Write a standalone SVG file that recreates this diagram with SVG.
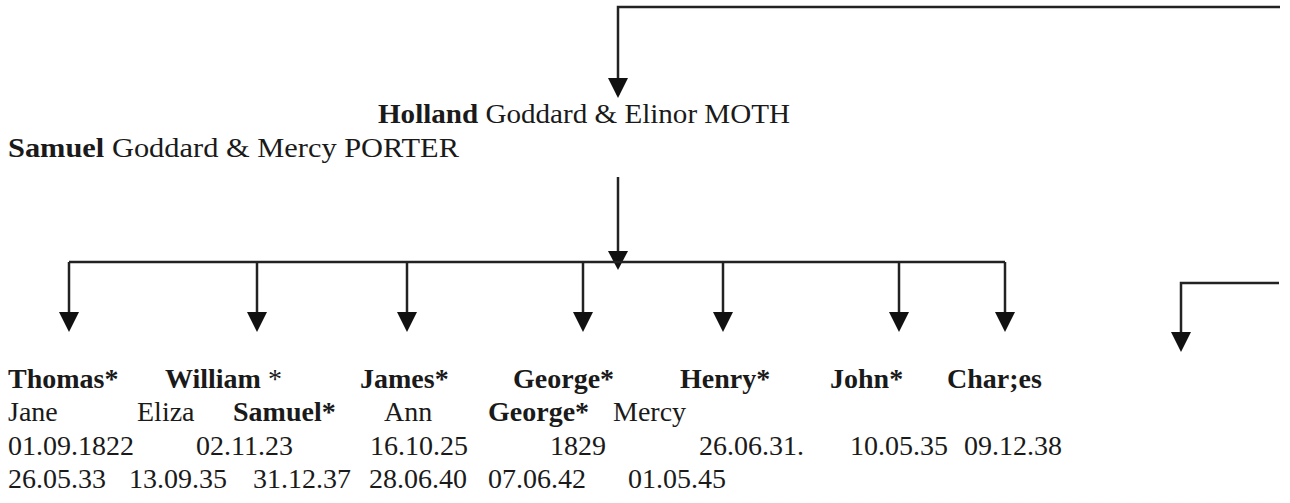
<svg xmlns="http://www.w3.org/2000/svg" width="1290" height="503" viewBox="0 0 1290 503" font-family="'Liberation Serif', 'Times New Roman', 'DejaVu Serif', serif">
<style>
text{font-family:'Liberation Serif','Times New Roman','DejaVu Serif',serif;font-size:28px;fill:#1a1a1a}
.b{font-weight:bold}
.ln{fill:none;stroke:#222;stroke-width:2.5}
.ah{fill:#111}
</style>
<rect width="1290" height="503" fill="#fff"/>
<g id="connectors">
<path class="ln" d="M1280,7 H618 V95"/>
<path class="ah" d="M608,78 L628,78 L618,98 Z"/>
<path class="ln" d="M618,177 V262"/>
<path class="ah" d="M608,251 L628,251 L618,270 Z"/>
<path class="ln" d="M69,262 H1005"/>
<path class="ln" d="M69,262 V315"/>
<path class="ah" d="M59,312 L79,312 L69,332 Z"/>
<path class="ln" d="M257,262 V315"/>
<path class="ah" d="M247,312 L267,312 L257,332 Z"/>
<path class="ln" d="M407,262 V315"/>
<path class="ah" d="M397,312 L417,312 L407,332 Z"/>
<path class="ln" d="M583,262 V315"/>
<path class="ah" d="M573,312 L593,312 L583,332 Z"/>
<path class="ln" d="M723,262 V315"/>
<path class="ah" d="M713,312 L733,312 L723,332 Z"/>
<path class="ln" d="M899,262 V315"/>
<path class="ah" d="M889,312 L909,312 L899,332 Z"/>
<path class="ln" d="M1005,262 V315"/>
<path class="ah" d="M995,312 L1015,312 L1005,332 Z"/>
<path class="ln" d="M1279,283 H1181 V335"/>
<path class="ah" d="M1171,332 L1191,332 L1181,352 Z"/>
</g>
<g id="parents-holland">
<text x="378" y="123" textLength="412" lengthAdjust="spacingAndGlyphs"><tspan class="b">Holland</tspan> Goddard &amp; Elinor MOTH</text>
</g>
<g id="parents-samuel">
<text x="8" y="157" textLength="451" lengthAdjust="spacingAndGlyphs"><tspan class="b">Samuel</tspan> Goddard &amp; Mercy PORTER</text>
</g>
<g id="child-thomas"><text class="b" x="8" y="388">Thomas*</text></g>
<g id="child-william"><text x="165" y="388"><tspan class="b">William</tspan> *</text></g>
<g id="child-james"><text class="b" x="360" y="388">James*</text></g>
<g id="child-george"><text class="b" x="513" y="388">George*</text></g>
<g id="child-henry"><text class="b" x="680" y="388">Henry*</text></g>
<g id="child-john"><text class="b" x="830" y="388">John*</text></g>
<g id="child-charles"><text class="b" x="947" y="388">Char;es</text></g>
<g id="row-spouses">
<text x="8" y="421">Jane</text>
<text x="137" y="421">Eliza</text>
<text class="b" x="233" y="421">Samuel*</text>
<text x="384" y="421">Ann</text>
<text class="b" x="488" y="421">George*</text>
<text x="613" y="421">Mercy</text>
</g>
<g id="row-dates-1">
<text x="8" y="455">01.09.1822</text>
<text x="196" y="455">02.11.23</text>
<text x="370" y="455">16.10.25</text>
<text x="550" y="455">1829</text>
<text x="699" y="455">26.06.31.</text>
<text x="850" y="455">10.05.35</text>
<text x="964" y="455">09.12.38</text>
</g>
<g id="row-dates-2">
<text x="8" y="488">26.05.33</text>
<text x="129" y="488">13.09.35</text>
<text x="253" y="488">31.12.37</text>
<text x="369" y="488">28.06.40</text>
<text x="488" y="488">07.06.42</text>
<text x="628" y="488">01.05.45</text>
</g>
</svg>
